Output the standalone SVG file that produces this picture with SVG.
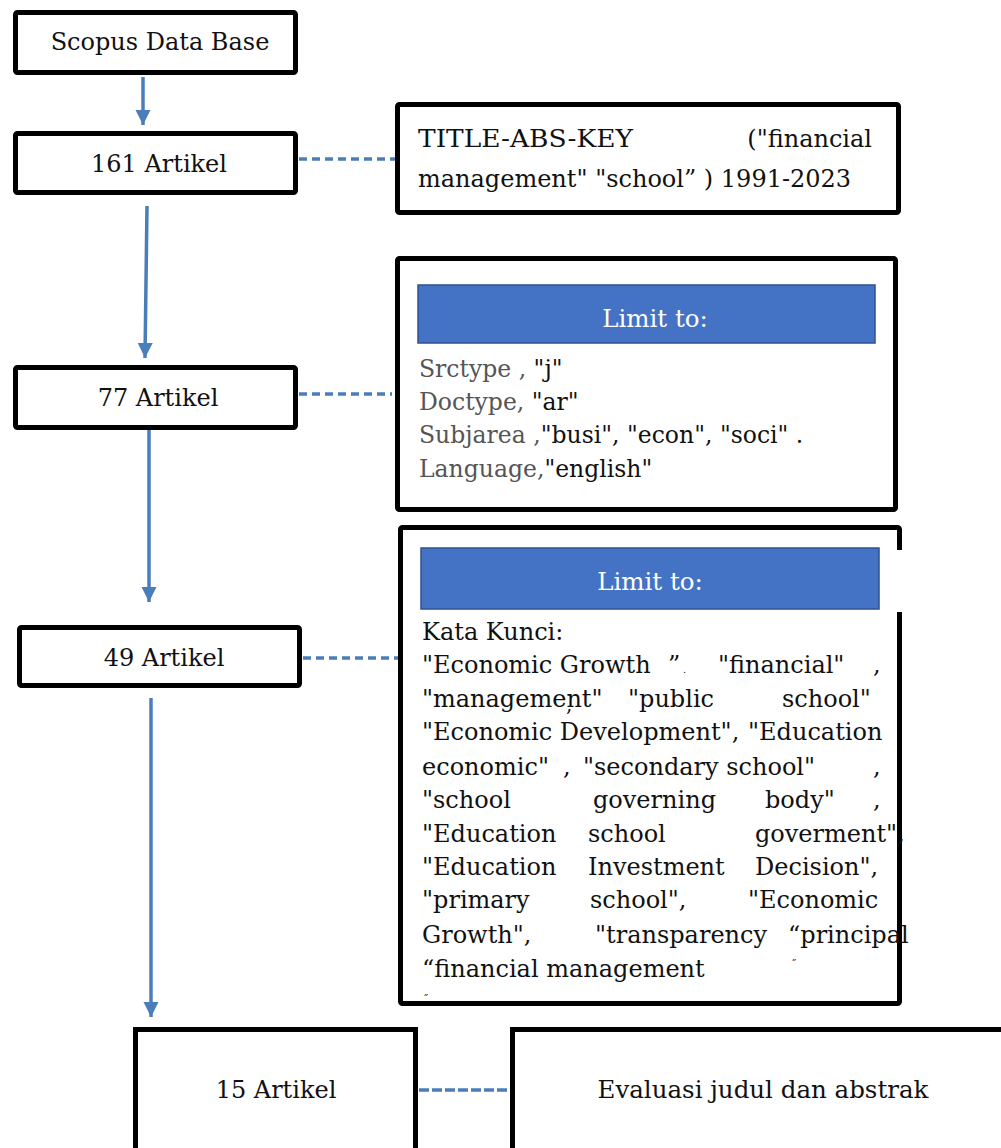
<svg xmlns="http://www.w3.org/2000/svg" width="1001" height="1148" viewBox="0 0 1001 1148">
<defs>
<style>
.box{fill:#fff;stroke:#000;stroke-width:5}
.lbl{font-family:"DejaVu Serif","Liberation Serif",serif;font-size:24px;fill:#111;text-anchor:middle}
.t{font-family:"DejaVu Serif","Liberation Serif",serif;font-size:24px;fill:#111}
.s{font-family:"DejaVu Serif","Liberation Serif",serif;font-size:23.5px;fill:#111}
.g{fill:#555}
.hdr{fill:#4472C4;stroke:#2F528F;stroke-width:1.5}
.hdrt{font-family:"DejaVu Serif","Liberation Serif",serif;font-size:24.5px;fill:#fff;text-anchor:middle}
.arr{stroke:#4A7EBB;stroke-width:3.5;fill:none;marker-end:url(#ah)}
.dash{stroke:#4A7EBB;stroke-width:3.5;fill:none;stroke-dasharray:8 5}
</style>
<marker id="ah" viewBox="0 0 10 10" refX="10" refY="5" markerWidth="4.4" markerHeight="4.4" markerUnits="strokeWidth" orient="auto">
<path d="M0,0 L10,5 L0,10 Z" fill="#4A7EBB"/>
</marker>
</defs>
<rect width="1001" height="1148" fill="#fff"/>

<g id="connectors">
<line class="arr" x1="143" y1="77" x2="143" y2="125"/>
<line class="arr" x1="147" y1="206" x2="145" y2="358"/>
<line class="arr" x1="149" y1="422" x2="149" y2="602"/>
<line class="arr" x1="151" y1="698" x2="151" y2="1017"/>
<line class="dash" x1="299" y1="159" x2="395" y2="159"/>
<line class="dash" x1="299" y1="394" x2="392" y2="394"/>
<line class="dash" x1="303" y1="658" x2="398" y2="658"/>
<line class="dash" x1="419" y1="1090" x2="510" y2="1090" style="stroke-dasharray:10 3"/>
</g>

<g id="scopus">
<rect class="box" x="15.5" y="12.5" width="280" height="60" rx="2"/>
<text class="lbl" x="160" y="50">Scopus Data Base</text>
</g>

<g id="n161">
<rect class="box" x="15.5" y="133.5" width="280" height="59" rx="2"/>
<text class="lbl" x="159" y="172">161 Artikel</text>
</g>

<g id="query">
<rect class="box" x="397.5" y="104.5" width="501" height="108" rx="2"/>
<text class="t" x="418" y="147" textLength="215" lengthAdjust="spacingAndGlyphs">TITLE-ABS-KEY</text>
<text class="t" x="872" y="147" style="text-anchor:end">("financial</text>
<text class="t" x="418" y="187">management" "school” ) 1991-2023</text>
</g>

<g id="n77">
<rect class="box" x="15.5" y="367.5" width="280" height="60" rx="2"/>
<text class="lbl" x="158" y="406">77 Artikel</text>
</g>

<g id="limit1">
<rect class="box" x="397.5" y="258.5" width="498" height="251" rx="2"/>
<rect class="hdr" x="418" y="285" width="457" height="58"/>
<text class="hdrt" x="655" y="327">Limit to:</text>
<text class="s" x="419" y="377"><tspan class="g">Srctype ,</tspan> "j"</text>
<text class="s" x="419" y="410"><tspan class="g">Doctype,</tspan> "ar"</text>
<text class="s" x="419" y="443"><tspan class="g">Subjarea ,</tspan>"busi", "econ", "soci" .</text>
<text class="s" x="419" y="477"><tspan class="g">Language,</tspan>"english"</text>
</g>

<g id="n49">
<rect class="box" x="19.5" y="627.5" width="280" height="58" rx="2"/>
<text class="lbl" x="164" y="666">49 Artikel</text>
</g>

<g id="limit2">
<rect class="box" x="400.5" y="527.5" width="499" height="476" rx="2"/>
<rect x="881" y="550" width="24" height="62" fill="#fff"/>
<rect class="hdr" x="421" y="548" width="458" height="61"/>
<text class="hdrt" x="650" y="590">Limit to:</text>
<text class="t" x="422" y="640">Kata Kunci:</text>
<text class="t" y="673"><tspan x="422">"Economic Growth</tspan><tspan x="668">”</tspan><tspan x="683" style="font-size:10px">.</tspan><tspan x="718">"financial"</tspan><tspan x="873">,</tspan></text>
<text class="t" y="707"><tspan x="422">"management"</tspan><tspan x="628">"public</tspan><tspan x="782">school"</tspan></text>
<text class="t" x="566" y="711" style="font-size:20px">,</text>
<text class="t" y="740"><tspan x="422">"Economic Development",</tspan><tspan x="748">"Education</tspan></text>
<text class="t" y="775"><tspan x="422">economic"</tspan><tspan x="563">,</tspan><tspan x="583">"secondary school"</tspan><tspan x="873">,</tspan></text>
<text class="t" y="808"><tspan x="422">"school</tspan><tspan x="593">governing</tspan><tspan x="765">body"</tspan><tspan x="873">,</tspan></text>
<text class="t" y="842"><tspan x="422">"Education</tspan><tspan x="588">school</tspan><tspan x="755">goverment",</tspan></text>
<text class="t" y="875"><tspan x="422">"Education</tspan><tspan x="588">Investment</tspan><tspan x="755">Decision",</tspan></text>
<text class="t" y="908"><tspan x="422">"primary</tspan><tspan x="590">school",</tspan><tspan x="748">"Economic</tspan></text>
<text class="t" y="943"><tspan x="422">Growth",</tspan><tspan x="595">"transparency</tspan><tspan x="788">“principal</tspan></text>
<text class="t" x="422" y="977">“financial management</text>
<text class="t" x="791" y="968" style="font-size:11px">˝</text>
<text class="t" x="423" y="1003" style="font-size:11px">˝</text>
</g>

<g id="n15">
<rect class="box" x="135.5" y="1029.5" width="280" height="200"/>
<text class="lbl" x="276" y="1098">15 Artikel</text>
</g>

<g id="eval">
<rect class="box" x="512.5" y="1029.5" width="600" height="200"/>
<text class="lbl" x="763" y="1098" style="font-size:24.5px">Evaluasi judul dan abstrak</text>
</g>
</svg>
